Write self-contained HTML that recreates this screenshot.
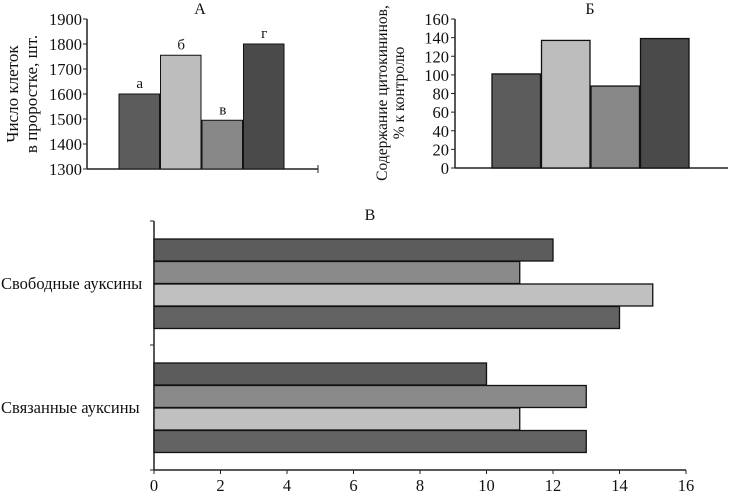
<!DOCTYPE html>
<html><head><meta charset="utf-8">
<style>
html,body{margin:0;padding:0;background:#fff;}
svg{display:block;font-family:"Liberation Serif",serif;}
</style></head>
<body>
<svg id="s" width="730" height="492" viewBox="0 0 730 492" xmlns="http://www.w3.org/2000/svg"></svg>
<script>
// Chart A data
const aCats = ['а','б','в','г'];
const aValues = [1600, 1755, 1495, 1800];
const aTicks = [1300,1400,1500,1600,1700,1800,1900];
// Chart B data
const bValues = [101, 137, 88, 139];
const bTicks = [0,20,40,60,80,100,120,140,160];
// Chart C data
const cGroups = ['Свободные ауксины','Связанные ауксины'];
const cFree = [12, 11, 15, 14];
const cBound = [10, 13, 11, 13];
const cTicks = [0,2,4,6,8,10,12,14,16];

const colors = ['#5c5c5c','#bdbdbd','#878787','#4a4a4a'];
const cColors = ['#5c5c5c','#8a8a8a','#c0c0c0','#636363'];
const NS='http://www.w3.org/2000/svg';
const svg=document.getElementById('s');
function mk(tag,attrs,parent){const e=document.createElementNS(NS,tag);for(const k in attrs)e.setAttribute(k,attrs[k]);(parent||svg).appendChild(e);return e;}
function txt(x,y,s,size,anchor,parent){const t=mk('text',{x:x,y:y,'font-size':size,'text-anchor':anchor||'middle',fill:'#111'},parent);t.textContent=s;return t;}

// ---------- Chart A ----------
const gA=mk('g',{});


const yA=v=>169-(v-1300)/600*150;
const aX0=119, aW=41.5;
txt(200,14,'А',16,'middle',gA);
mk('line',{x1:87,y1:19,x2:87,y2:169,stroke:'#222','stroke-width':1.5},gA);
mk('line',{x1:87,y1:169,x2:318,y2:169,stroke:'#222','stroke-width':1.5},gA);
mk('line',{x1:318,y1:165,x2:318,y2:173,stroke:'#222','stroke-width':1},gA);
aTicks.forEach(v=>{
  mk('line',{x1:83,y1:yA(v),x2:87,y2:yA(v),stroke:'#222'},gA);
  const t=txt(82,yA(v)+6,String(v),16.5,'end',gA);
  
});
aValues.forEach((v,i)=>{
  const x=aX0+i*aW;
  const r=mk('rect',{x:x,y:yA(v),width:aW-1,height:169-yA(v),fill:colors[i],stroke:'#111','stroke-width':1},gA);
  
  
  const l=txt(x+aW/2,yA(v)-6,aCats[i],15,'middle',gA);
  
});
const ya=mk('text',{transform:'translate(18,94) rotate(-90)','font-size':17,'text-anchor':'middle',fill:'#111'},gA);

ya.innerHTML='<tspan x="0" dy="0">Число клеток</tspan><tspan x="0" dy="19">в проростке, шт.</tspan>';

// ---------- Chart B ----------
const gB=mk('g',{});


const yB=v=>168-v/160*149;
const bX0=492, bW=49.5;
txt(590,14,'Б',16,'middle',gB);
mk('line',{x1:455,y1:19,x2:455,y2:168,stroke:'#222','stroke-width':1.5},gB);
mk('line',{x1:455,y1:168,x2:728,y2:168,stroke:'#222','stroke-width':1.5},gB);
bTicks.forEach(v=>{
  mk('line',{x1:451,y1:yB(v),x2:455,y2:yB(v),stroke:'#222'},gB);
  const t=txt(449,yB(v)+6,String(v),16.5,'end',gB);
  
});
bValues.forEach((v,i)=>{
  const x=bX0+i*bW;
  const r=mk('rect',{x:x,y:yB(v),width:bW-1,height:168-yB(v),fill:colors[i],stroke:'#111','stroke-width':1.3},gB);
  
  
});
const yb=mk('text',{transform:'translate(387,93) rotate(-90)','font-size':15.5,'text-anchor':'middle',fill:'#111'},gB);

yb.innerHTML='<tspan x="0" dy="0">Содержание цитокининов,</tspan><tspan x="0" dy="17">% к контролю</tspan>';

// ---------- Chart C ----------
const gC=mk('g',{});


const xC=v=>154+v/16*532;
txt(370,220,'В',16,'middle',gC);
mk('line',{x1:154,y1:221,x2:154,y2:470,stroke:'#222','stroke-width':1.5},gC);
mk('line',{x1:154,y1:470,x2:686,y2:470,stroke:'#222','stroke-width':1.5},gC);
[221,345,470].forEach(y=>mk('line',{x1:150,y1:y,x2:154,y2:y,stroke:'#222'},gC));
cTicks.forEach(v=>{
  mk('line',{x1:xC(v),y1:470,x2:xC(v),y2:474,stroke:'#222'},gC);
  const t=txt(xC(v),491,String(v),16.5,'middle',gC);
  
});
const groupTops=[239,363];
[cFree,cBound].forEach((arr,g)=>{
  const t=txt(1,289+g*124,cGroups[g],16.5,'start',gC);
  
  arr.forEach((v,i)=>{
    const y=groupTops[g]+i*22.5;
    const r=mk('rect',{x:154,y:y,width:xC(v)-154,height:22,fill:cColors[i],stroke:'#111','stroke-width':1.3},gC);
    
    
  });
});
</script>
</body></html>
